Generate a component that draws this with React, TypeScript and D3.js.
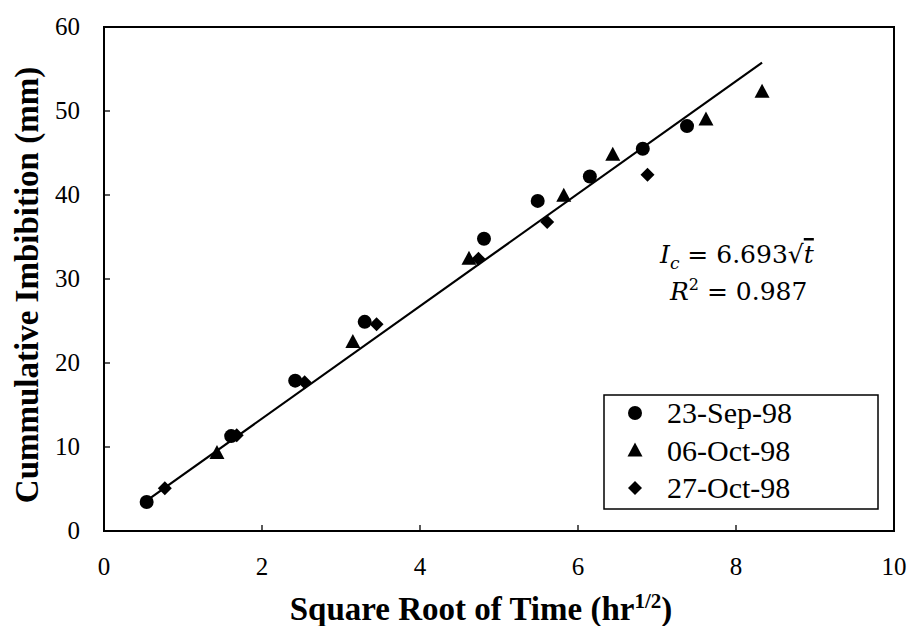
import React from "react";
import * as d3 from "d3";

// sqrt(t) (hr^1/2) and cumulative imbibition (mm), one pair of arrays per run
const sepX = [0.54, 1.61, 2.42, 3.3, 4.81, 5.49, 6.15, 6.82, 7.38];
const sepY = [3.45, 11.3, 17.9, 24.9, 34.8, 39.3, 42.2, 45.5, 48.2];
const octX = [1.43, 3.15, 4.62, 5.82, 6.44, 7.62, 8.33];
const octY = [9.3, 22.5, 32.4, 39.9, 44.8, 49.0, 52.3];
const oct27X = [0.77, 1.68, 2.54, 3.45, 4.74, 5.61, 6.88];
const oct27Y = [5.1, 11.4, 17.7, 24.6, 32.4, 36.8, 42.4];

const seriesNames = ["23-Sep-98", "06-Oct-98", "27-Oct-98"];
const xTicks = [0, 2, 4, 6, 8, 10];
const yTicks = [0, 10, 20, 30, 40, 50, 60];
const slope = 6.693;
const r2 = "0.987";

const width = 909;
const height = 626;
const marginLeft = 104;
const marginRight = 15;
const marginTop = 27;
const marginBottom = 95;

const font = "'Liberation Serif', 'Times New Roman', serif";
const mathFont = "'DejaVu Serif', serif";

function Marker({ kind, x, y }: { kind: number; x: number; y: number }) {
  if (kind === 0) return <circle cx={x} cy={y} r={7} fill="#000" />;
  if (kind === 1)
    return <path d={`M${x},${y - 8} L${x + 7.5},${y + 6} L${x - 7.5},${y + 6} Z`} fill="#000" />;
  return <path d={`M${x},${y - 7} L${x + 7},${y} L${x},${y + 7} L${x - 7},${y} Z`} fill="#000" />;
}

export default function App() {
  const x = d3.scaleLinear().domain([0, 10]).range([marginLeft, width - marginRight]);
  const y = d3.scaleLinear().domain([0, 60]).range([height - marginBottom, marginTop]);

  const series = [
    { xs: sepX, ys: sepY },
    { xs: octX, ys: octY },
    { xs: oct27X, ys: oct27Y },
  ];

  const allX = [...sepX, ...octX, ...oct27X];
  const [x0, x1] = d3.extent(allX) as [number, number];
  const fit = d3.line<number>().x((d) => x(d)).y((d) => y(slope * d));

  const tickLen = 6;

  return (
    <svg width={width} height={height} style={{ display: "block", position: "absolute", left: 0, top: 0 }}>
      <rect width={width} height={height} fill="#fff" />

      {/* ticks (inside) */}
      {yTicks.map((t) => (
        <g key={"y" + t}>
          <line x1={x(0)} x2={x(0) + tickLen} y1={y(t)} y2={y(t)} stroke="#000" strokeWidth={1.3} />
          <text x={80} y={y(t)} dy="0.33em" textAnchor="end" fontFamily={font} fontSize={25}>
            {t}
          </text>
        </g>
      ))}
      {xTicks.map((t) => (
        <g key={"x" + t}>
          <line x1={x(t)} x2={x(t)} y1={y(0)} y2={y(0) - tickLen} stroke="#000" strokeWidth={1.3} />
          <text x={x(t)} y={575} textAnchor="middle" fontFamily={font} fontSize={25}>
            {t}
          </text>
        </g>
      ))}

      {/* frame */}
      <rect
        x={x(0)}
        y={y(60)}
        width={x(10) - x(0)}
        height={y(0) - y(60)}
        fill="none"
        stroke="#000"
        strokeWidth={2}
      />

      {/* fit line */}
      <path d={fit([x0, x1]) ?? ""} stroke="#000" strokeWidth={2.2} fill="none" />

      {/* points */}
      {series.map((s, k) =>
        s.xs.map((v, i) => <Marker key={k + "-" + i} kind={k} x={x(v)} y={y(s.ys[i])} />)
      )}

      {/* equation */}
      <text x={660} y={263} fontFamily={mathFont} fontSize={25}>
        <tspan fontStyle="italic">I</tspan>
        <tspan fontStyle="italic" fontSize={17} dy={6}>c</tspan>
        <tspan dy={-6}> = {slope}√</tspan>
        <tspan fontStyle="italic" textDecoration="overline">t</tspan>
      </text>
      <text x={670} y={300} fontFamily={mathFont} fontSize={25}>
        <tspan fontStyle="italic">R</tspan>
        <tspan fontSize={16} dy={-10}>2</tspan>
        <tspan dy={10}> = {r2}</tspan>
      </text>

      {/* legend */}
      <rect x={604} y={395} width={274} height={114} fill="#fff" stroke="#000" strokeWidth={1.5} />
      {seriesNames.map((n, k) => (
        <g key={n}>
          <Marker kind={k} x={635} y={413 + k * 37.5} />
          <text x={667} y={423 + k * 37.5} fontFamily={font} fontSize={30}>
            {n}
          </text>
        </g>
      ))}

      {/* axis titles */}
      <text x={481} y={620} textAnchor="middle" fontFamily={font} fontSize={33} fontWeight="bold">
        Square Root of Time (hr
        <tspan fontSize={21} dy={-12}>1/2</tspan>
        <tspan dy={12}>)</tspan>
      </text>
      <text
        transform={`translate(38,${(y(0) + y(60)) / 2 + 6}) rotate(-90)`}
        textAnchor="middle"
        fontFamily={font}
        fontSize={33}
        fontWeight="bold"
      >
        Cummulative Imbibition (mm)
      </text>
    </svg>
  );
}
